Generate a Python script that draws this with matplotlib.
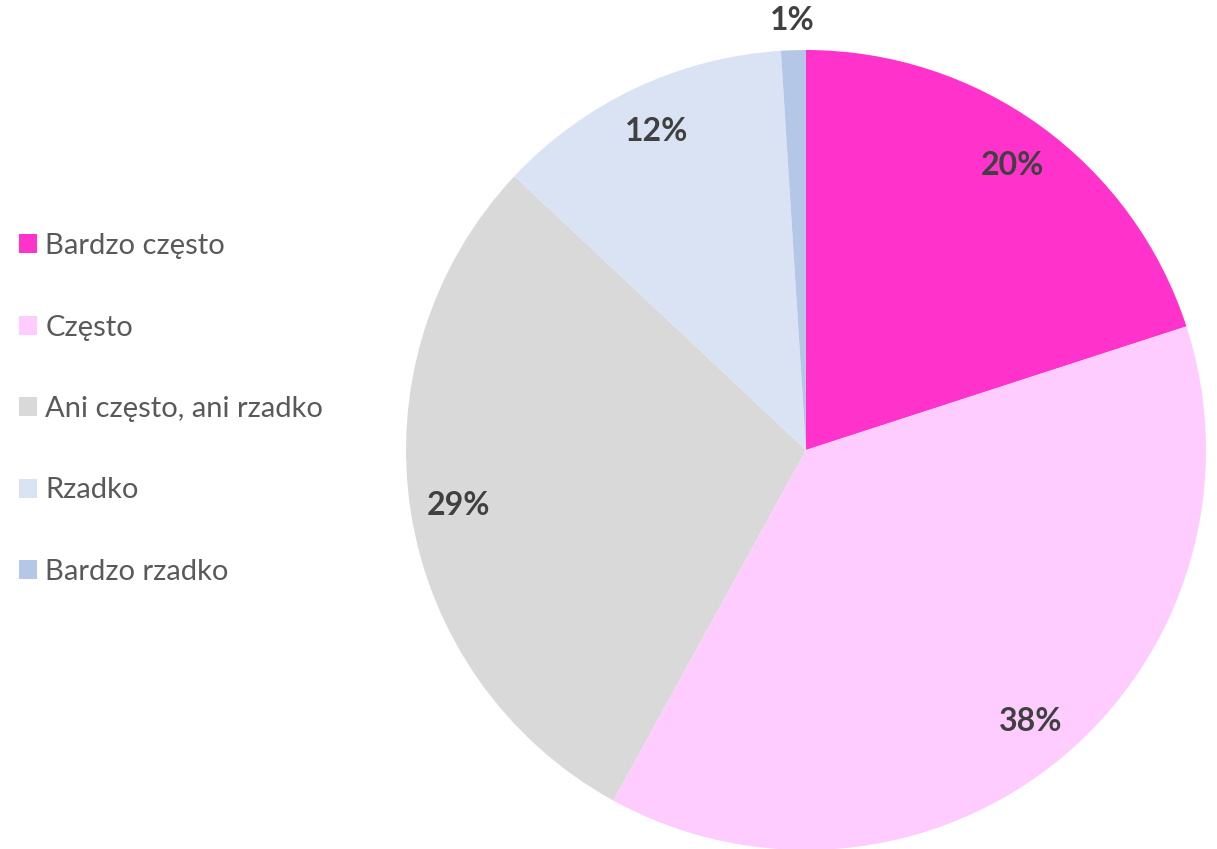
import matplotlib
matplotlib.use("Agg")
import matplotlib.pyplot as plt
import numpy as np

categories = ["Bardzo często", "Często", "Ani często, ani rzadko", "Rzadko", "Bardzo rzadko"]
values = [20, 38, 29, 12, 1]
labels = ["20%", "38%", "29%", "12%", "1%"]
colors = ["#FF33CC", "#FFCCFF", "#D9D9D9", "#DAE3F3", "#B4C7E7"]

plt.rcParams['font.family'] = ['Lato', 'DejaVu Sans']

W, H = 1217, 849
fig = plt.figure(figsize=(W / 100, H / 100), dpi=100)
cx, cy, r = 806, 450, 400
ax = fig.add_axes([(cx - r) / W, (H - cy - r) / H, 2 * r / W, 2 * r / H])
wedges, _ = ax.pie(values, colors=colors, startangle=90, counterclock=False,
                   wedgeprops=dict(linewidth=0))
for w in wedges:
    w.set_clip_on(False)
ax.set_xlim(-1, 1)
ax.set_ylim(-1, 1)
ax.set_aspect('equal')
ax.axis('off')

for w, lab, v in zip(wedges, labels, values):
    ang = np.deg2rad((w.theta1 + w.theta2) / 2)
    d = 0.88 if v > 3 else 1.075
    ax.text(d * np.cos(ang), d * np.sin(ang), lab, ha='center', va='center',
            fontsize=23, fontweight='bold', color='#404040')

leg = fig.legend(wedges, categories, loc='center left',
                 bbox_to_anchor=(19 / W, (H - 409) / H), frameon=False,
                 fontsize=21, labelcolor='#595959', handlelength=0.62,
                 handleheight=0.62, handletextpad=0.28, labelspacing=1.9,
                 borderpad=0, borderaxespad=0)

fig.savefig("out.png", dpi=100)
